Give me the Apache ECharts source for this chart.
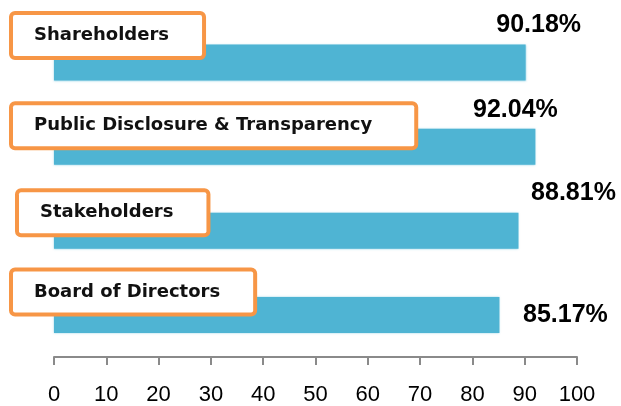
<!DOCTYPE html>
<html>
<head>
<meta charset="utf-8">
<script src="https://cdn.jsdelivr.net/npm/echarts@6/dist/echarts.min.js"></script>
<style>
  html, body { margin: 0; padding: 0; background: #fff; }
  #chart { width: 621px; height: 406px; }
</style>
</head>
<body>
<div id="chart"></div>
<script>
// data
var categories = ['Shareholders', 'Public Disclosure & Transparency', 'Stakeholders', 'Board of Directors'];
var scores = [90.18, 92.04, 88.81, 85.17];
var tickLabels = ['0', '10', '20', '30', '40', '50', '60', '70', '80', '90', '100'];

// label placement (styling only, not data)
var valueOffsets = [[8, -37], [-25, -37], [50, -38], [61, 0]];
var nameOffsets = [[-46, -27], [-46, -21], [-40, -18], [-46, -23]];
var namePadRight = [33, 42, 33, 33];

var chart = echarts.init(document.getElementById('chart'));

var valueData = scores.map(function (v, i) {
  return {
    value: v,
    label: { offset: valueOffsets[i] }
  };
});

var nameData = scores.map(function (v, i) {
  return {
    value: v,
    label: {
      offset: nameOffsets[i],
      padding: [10, namePadRight[i], 9, 21]
    }
  };
});

chart.setOption({
  backgroundColor: '#fff',
  animation: false,
  grid: {
    left: 54,
    right: 44,
    top: 20.5,
    bottom: 45.5
  },
  xAxis: {
    type: 'value',
    min: 0,
    max: 100,
    interval: 10,
    splitLine: { show: false },
    axisLine: { show: true, lineStyle: { color: '#8a8a8a', width: 2 } },
    axisTick: { show: true, length: 8, lineStyle: { color: '#8a8a8a', width: 2 } },
    axisLabel: {
      margin: 27,
      fontFamily: 'Liberation Sans',
      fontSize: 22,
      color: '#000',
      formatter: function (v) {
        return tickLabels[Math.round(v / 10)];
      }
    }
  },
  yAxis: {
    type: 'category',
    inverse: true,
    data: categories,
    axisLine: { show: false },
    axisTick: { show: false },
    axisLabel: { show: false }
  },
  series: [{
    name: 'score',
    type: 'bar',
    barWidth: 36,
    itemStyle: {
      color: '#4fb4d3',
      shadowBlur: 2,
      shadowColor: 'rgba(79,180,211,0.6)'
    },
    label: {
      show: true,
      position: 'right',
      align: 'center',
      fontFamily: 'Liberation Sans',
      fontWeight: 'bold',
      fontSize: 25,
      color: '#000',
      formatter: function (p) {
        return p.value.toFixed(2) + '%';
      }
    },
    data: valueData
  }, {
    name: 'names',
    type: 'bar',
    barWidth: 36,
    barGap: '-100%',
    itemStyle: { color: 'rgba(0,0,0,0)' },
    label: {
      show: true,
      position: 'insideLeft',
      fontFamily: 'DejaVu Sans',
      fontWeight: 'bold',
      fontSize: 18,
      lineHeight: 22,
      color: '#111',
      backgroundColor: '#fff',
      borderColor: '#f79646',
      borderWidth: 4,
      borderRadius: 2,
      formatter: function (p) {
        return p.name;
      }
    },
    data: nameData
  }]
});
</script>
</body>
</html>
